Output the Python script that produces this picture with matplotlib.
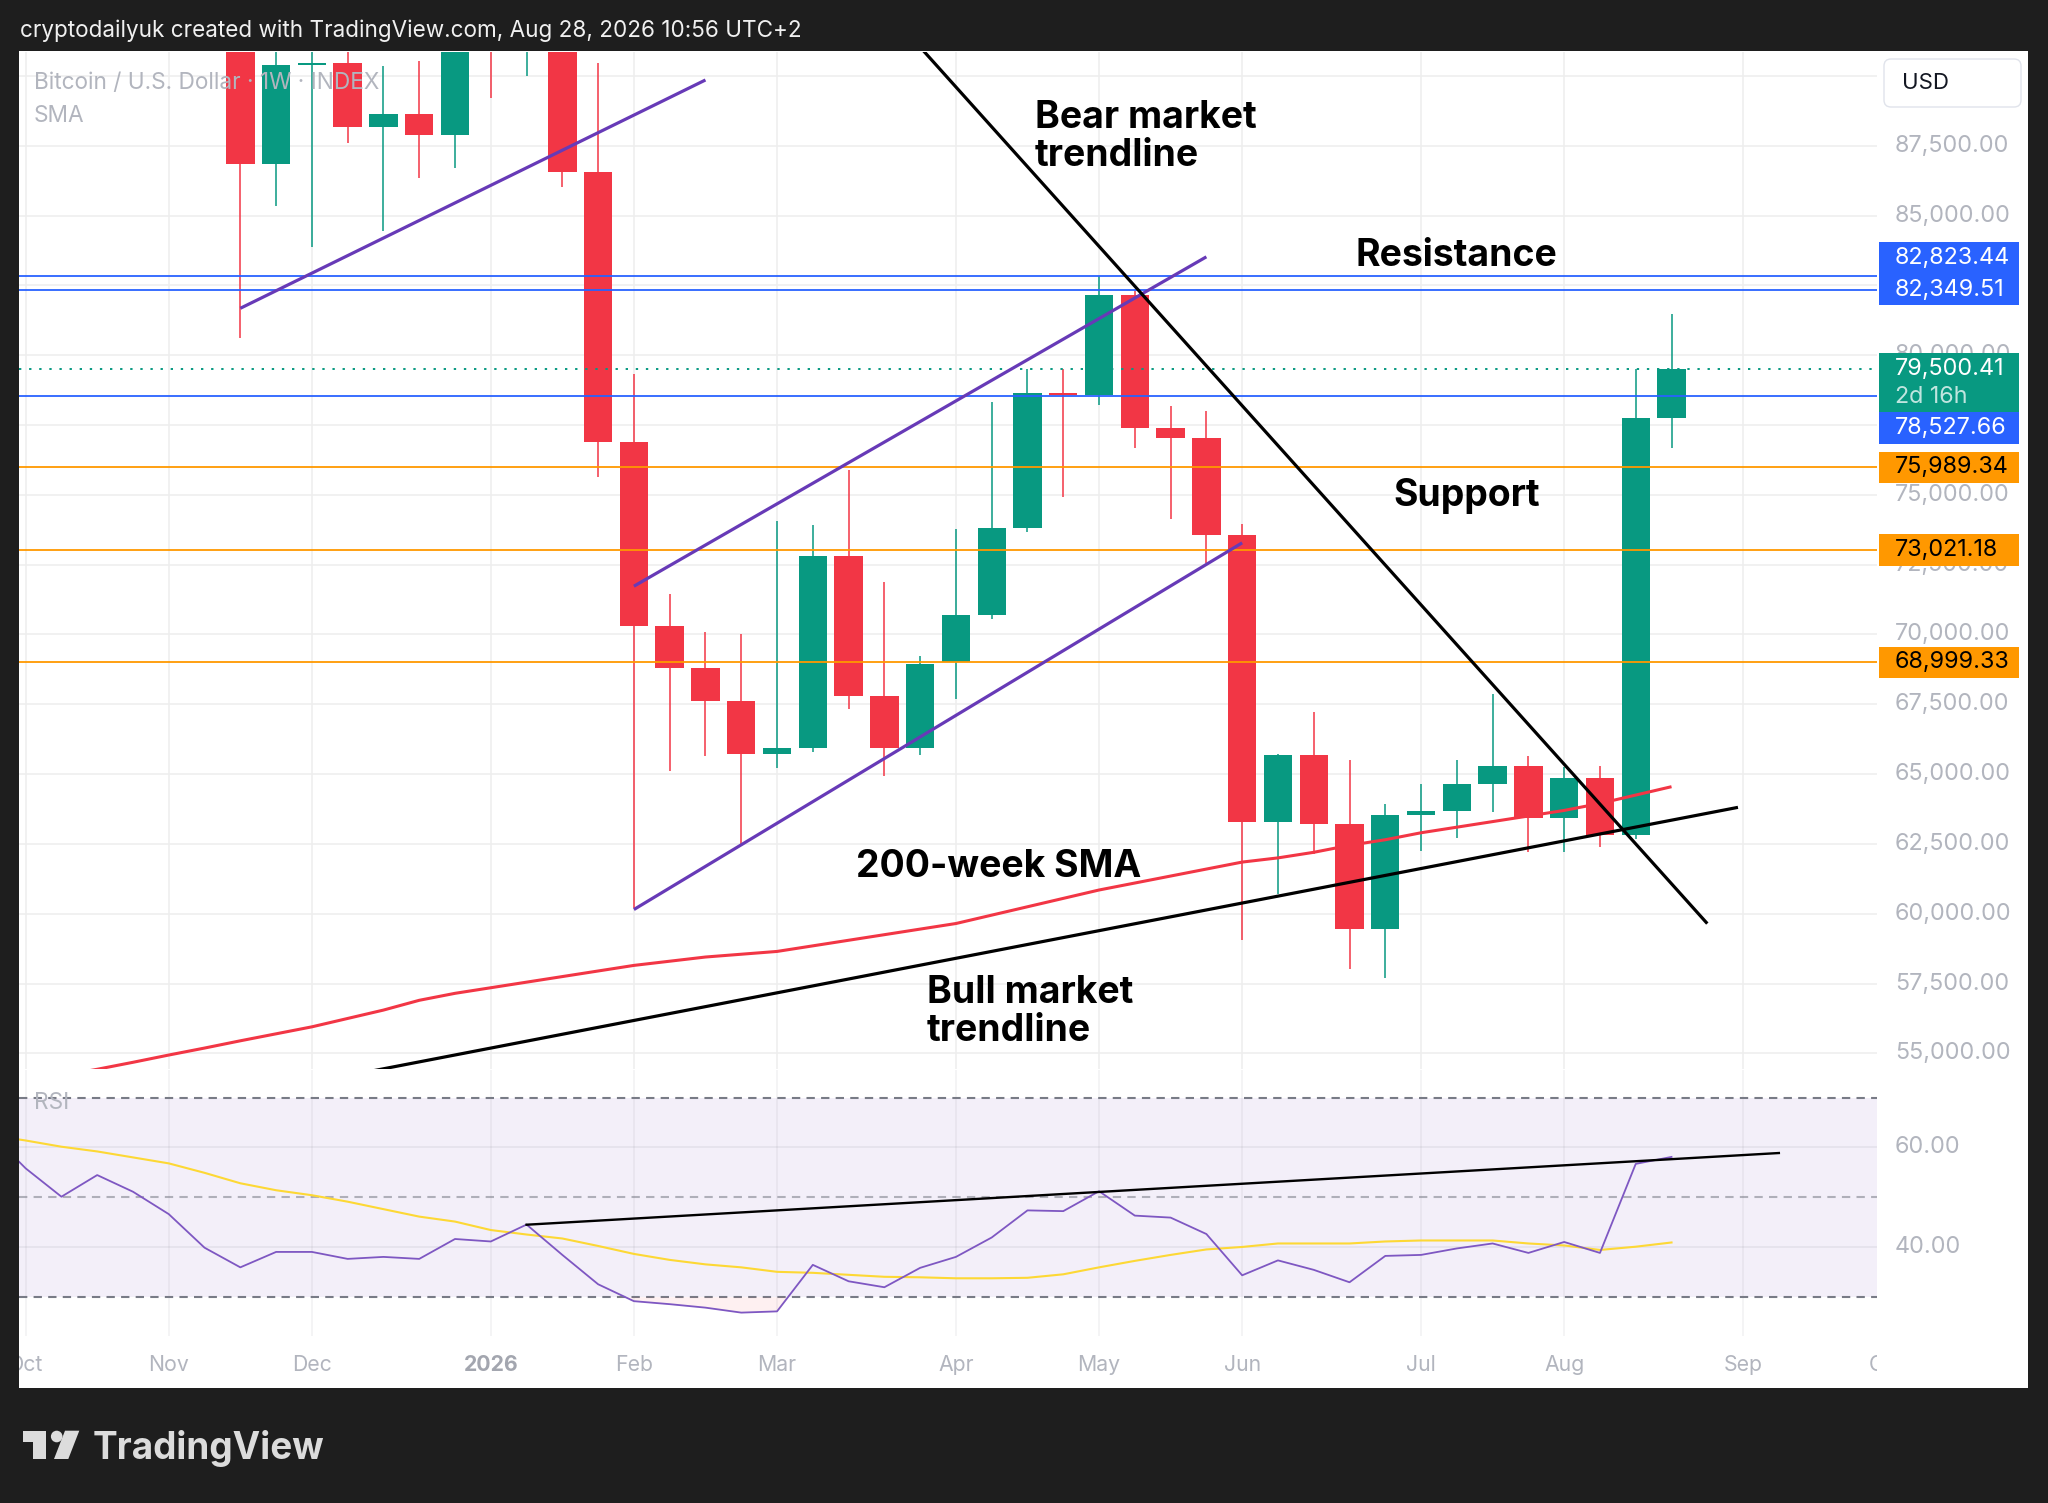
import numpy as np
import pandas as pd
import matplotlib
matplotlib.use("Agg")
import matplotlib.pyplot as plt
import matplotlib.dates as mdates
import matplotlib.transforms as mtransforms
from matplotlib.patches import Rectangle, FancyBboxPatch, Polygon, Circle

# ---------------- data ----------------
candle_start = "2025-11-17"          # weekly candles (Mondays)
opens  = [92800, 86843, 90400, 90460, 88157, 88638, 87872, 92000, 91000, 92500,
          86559, 76905, 70300, 68790, 67610, 65722, 65928, 72800, 67800, 65928,
          69000, 70701, 73826, 78651, 78565, 82171, 77380, 77020, 73560, 63284,
          65670, 63210, 59454, 63542, 63679, 64636, 65289, 63434, 64845, 62820,
          77741]
highs  = [93500, 91800, 92500, 91500, 90346, 90543, 92800, 93500, 93500, 93000,
          90455, 79335, 71433, 70100, 70031, 74049, 73912, 75900, 71886, 69242,
          73792, 78342, 79509, 79509, 82823, 82291, 78170, 78000, 73963, 65722,
          67212, 65494, 63917, 64636, 65494, 67868, 65653, 65258, 65289, 79509,
          81484]
lows   = [80627, 85333, 83888, 87609, 84435, 86340, 86712, 89200, 90017, 86011,
          75657, 60203, 65128, 65650, 62511, 65224, 65807, 67318, 64949, 65687,
          67696, 70564, 73671, 74925, 78204, 76676, 74152, 72555, 59077, 60708,
          62134, 58012, 57703, 62254, 62717, 63627, 62202, 62202, 62404, 62683,
          76676]
closes = [86843, 90411, 90460, 88157, 88638, 87872, 92000, 91000, 92500, 86559,
          76905, 70300, 68790, 67620, 65722, 65928, 72800, 67800, 65928, 68950,
          70701, 73826, 78651, 78565, 82171, 77380, 77020, 73560, 63284, 65670,
          63210, 59454, 63542, 63679, 64636, 65289, 63434, 64845, 62820, 77741,
          79500.41]

indicator_start = "2025-09-29"       # weekly indicator values
sma200 = [53700, 53950, 54200, 54430, 54680, 54940, 55190,
          55450, 55700, 55950, 56250, 56550, 56900, 57150, 57350, 57550, 57750,
          57950, 58150, 58300, 58450, 58550, 58650, 58850, 59050, 59250, 59450,
          59650, 59950, 60250, 60550, 60850, 61100, 61350, 61600, 61850, 62000,
          62200, 62450, 62650, 62900, 63100, 63300, 63500, 63700, 63950, 64250,
          64550]
rsi_vals = [63.0, 55.8, 50.1, 54.45, 51.1, 46.6, 39.85,
            35.9, 39.0, 39.0, 37.6, 38.0, 37.6, 41.6, 41.1, 44.5, 38.4,
            32.5, 29.1, 28.5, 27.8, 26.8, 27.05, 36.4, 33.1, 31.9, 35.8,
            38.0, 41.9, 47.35, 47.2, 51.2, 46.3, 45.9, 42.6, 34.3, 37.3,
            35.4, 32.9, 38.2, 38.4, 39.7, 40.7, 38.8, 41.0, 38.8, 56.7,
            58.1]
rsi_ma = [62.5, 61.4, 60.15, 59.2, 58.0, 56.8, 54.9,
          52.8, 51.4, 50.4, 49.1, 47.6, 46.1, 45.1, 43.4, 42.5, 41.7,
          40.2, 38.6, 37.4, 36.5, 35.9, 35.0, 34.8, 34.4, 34.0, 33.9,
          33.7, 33.7, 33.8, 34.5, 35.9, 37.2, 38.4, 39.5, 40.0, 40.7,
          40.7, 40.7, 41.1, 41.3, 41.3, 41.3, 40.7, 40.3, 39.4, 40.05,
          40.9]

blue_levels = [82823.44, 82349.51, 78527.66]
orange_levels = [75989.34, 73021.18, 68999.33]
last_price = 79500.41
countdown_text = "2d 16h"

purple_lines = [
    (["2025-11-17", "2026-02-16"], [81682, 89858]),
    (["2026-02-02", "2026-05-25"], [71729, 83525]),
    (["2026-02-02", "2026-06-01"], [60151, 73283]),
]
bear_trend = (["2026-03-09", "2026-08-31"], [95314, 59647])
bull_trend = (["2025-12-08", "2026-09-06"], [54200, 63810])
rsi_trend = (["2026-01-12", "2026-09-14"], [44.47, 58.88])

price_ticks = [55000, 57500, 60000, 62500, 65000, 67500, 70000, 72500,
               75000, 77500, 80000, 82500, 85000, 87500, 90000]
rsi_ticks = [40, 60]
month_dates = ["2025-10-06", "2025-11-03", "2025-12-01", "2026-01-05", "2026-02-02",
               "2026-03-02", "2026-04-06", "2026-05-04", "2026-06-01", "2026-07-06",
               "2026-08-03", "2026-09-07", "2026-10-05"]
month_labels = ["Oct", "Nov", "Dec", "2026", "Feb", "Mar", "Apr", "May", "Jun",
                "Jul", "Aug", "Sep", "Oct"]

# ---------------- style ----------------
W, H = 2048, 1503
DARK = "#1e1e1e"
GREEN = "#089981"
RED = "#f23645"
BLUE = "#2962ff"
ORANGE = "#ff9800"
PURPLE = "#673ab7"
GREY = "#b2b5be"
GRID = "#eeeeee"
AXFS = 16.8
plt.rcParams["font.family"] = ["Inter", "DejaVu Sans"]

fig = plt.figure(figsize=(W / 100, H / 100), dpi=100, facecolor=DARK)
TPX = mtransforms.Affine2D().scale(1, -1).translate(0, H).scale(1 / 100.0) + fig.dpi_scale_trans

# white chart panel
fig.add_artist(Rectangle((19, 51), 2028 - 19, 1388 - 51, transform=TPX,
                         facecolor="white", edgecolor="none", zorder=-5))

PL, PR = 19, 1877
ax = fig.add_axes([PL / W, 1 - 1069 / H, (PR - PL) / W, (1069 - 52) / H])
axr = fig.add_axes([PL / W, 1 - 1336 / H, (PR - PL) / W, (1336 - 1070) / H])
lab_ax = fig.add_axes([PL / W, 1 - 1388 / H, (PR - PL) / W, (1388 - 1337) / H])

x0 = mdates.date2num(pd.Timestamp(candle_start))
xlim = (x0 - 43.3, x0 + 320.2)
for a in (ax, axr, lab_ax):
    a.set_xlim(*xlim)
    a.set_xticks([])
    a.set_yticks([])
    a.set_facecolor("none")
    for s in a.spines.values():
        s.set_visible(False)
ax.set_ylim(54440, 90860)
axr.set_ylim(22.1, 75.57)
lab_ax.set_ylim(0, 1)

# grids
mx = mdates.date2num(pd.to_datetime(month_dates))
for xv in mx:
    ax.axvline(xv, color=GRID, lw=1.1, zorder=0)
    axr.axvline(xv, color="#787b86", alpha=0.1, lw=1.1, zorder=0.6)
for p in price_ticks:
    ax.axhline(p, color=GRID, lw=1.1, zorder=0)

# candles
x = mdates.date2num(pd.date_range(candle_start, periods=len(opens), freq="7D"))
o, hi, lo, c = (np.array(v, dtype=float) for v in (opens, highs, lows, closes))
cols = np.where(c >= o, GREEN, RED)
ax.vlines(x, lo, hi, colors=cols, lw=1.1, zorder=3)
ax.bar(x, np.maximum(np.abs(c - o), 60), bottom=np.minimum(o, c), width=5.55,
       color=cols, linewidth=0, zorder=3.1)

# 200-week SMA
xi = mdates.date2num(pd.date_range(indicator_start, periods=len(sma200), freq="7D"))
ax.plot(xi, sma200, color=RED, lw=2.2, zorder=4, solid_capstyle="butt")

# horizontal levels
for p in blue_levels:
    ax.axhline(p, color=BLUE, lw=1.3, zorder=5)
for p in orange_levels:
    ax.axhline(p, color=ORANGE, lw=1.3, zorder=5)
ax.axhline(last_price, color=GREEN, lw=1.4, ls=(0, (1.2, 4)), zorder=5)

# drawings
for d, v in purple_lines:
    ax.plot(mdates.date2num(pd.to_datetime(d)), v, color=PURPLE, lw=2.3, zorder=6,
            solid_capstyle="butt")
for d, v in (bear_trend, bull_trend):
    ax.plot(mdates.date2num(pd.to_datetime(d)), v, color="black", lw=2.3, zorder=6,
            solid_capstyle="butt")

# RSI pane
rv = np.array(rsi_vals)
axr.axhspan(30, 70, color="#7e57c2", alpha=0.09, lw=0, zorder=0)
for v in rsi_ticks:
    axr.axhline(v, color="#787b86", alpha=0.12, lw=1.2, zorder=0.5)
axr.axhline(70, color="#787b86", lw=1.5, ls=(0, (4, 3)), zorder=1)
axr.axhline(30, color="#787b86", lw=1.5, ls=(0, (4, 3)), zorder=1)
axr.axhline(50, color="#787b86", alpha=0.55, lw=1.5, ls=(0, (4, 3)), zorder=1)
axr.fill_between(xi, rv, 30, where=rv < 30, interpolate=True, color=RED,
                 alpha=0.07, lw=0, zorder=1)
axr.plot(xi, rsi_ma, color="#fdd835", lw=1.5, zorder=2)
axr.plot(xi, rv, color="#7e57c2", lw=1.3, zorder=3)
axr.plot(mdates.date2num(pd.to_datetime(rsi_trend[0])), rsi_trend[1], color="black",
         lw=1.7, zorder=4)

# month labels (clipped to pane width)
for xv, lab in zip(mx, month_labels):
    bold = lab.isdigit()
    lab_ax.text(xv, 0.45, lab, ha="center", va="center", fontsize=15.3,
                color="#a3a6af" if bold else GREY,
                fontweight="bold" if bold else "normal", clip_on=True)


def ypx(p):
    return H - ax.transData.transform((x0, p))[1]


BOX_H = 31.5
BX0, BX1 = 1879, 2019

# coloured price labels: positions (collision-adjusted like the price scale does)
cy_b2 = ypx(blue_levels[1])
cy_b1 = min(ypx(blue_levels[0]), cy_b2 - BOX_H)
cy_g = ypx(last_price)
cy_b3 = max(ypx(blue_levels[2]), cy_g + 59)
boxes = [(cy_b1, f"{blue_levels[0]:,.2f}", BLUE, "white", BOX_H, cy_b1 - BOX_H / 2),
         (cy_b2, f"{blue_levels[1]:,.2f}", BLUE, "white", BOX_H, cy_b2 - BOX_H / 2),
         (cy_g, f"{last_price:,.2f}", GREEN, "white", 59, cy_g - BOX_H / 2),
         (cy_b3, f"{blue_levels[2]:,.2f}", BLUE, "white", BOX_H, cy_b3 - BOX_H / 2)]
for p in orange_levels:
    cy = ypx(p)
    boxes.append((cy, f"{p:,.2f}", ORANGE, "black", BOX_H, cy - BOX_H / 2))
covers = [(t, t + h) for (_, _, _, _, h, t) in boxes] + [(59, 107)]

# price scale labels (skip those fully hidden behind label boxes)
for p in price_ticks:
    yy = ypx(p)
    if any(t - 2 <= yy - 8 and yy + 8 <= b + 2 for t, b in covers):
        continue
    fig.text(1895, yy, f"{p:,.2f}", transform=TPX, va="center", ha="left",
             fontsize=AXFS, color=GREY, zorder=2)
trans_r = mtransforms.blended_transform_factory(fig.transFigure, axr.transData)
for v in rsi_ticks:
    fig.text(1895 / W, v, f"{v:.2f}", transform=trans_r, va="center", ha="left",
             fontsize=AXFS, color=GREY, zorder=2)

for cy, txt, fc, tc, h, t in boxes:
    fig.add_artist(Rectangle((BX0, t), BX1 - BX0, h, transform=TPX, facecolor=fc,
                             edgecolor="none", zorder=10))
    fig.text(1895, cy, txt, transform=TPX, va="center", ha="left", fontsize=AXFS,
             color=tc, zorder=11)
fig.text(1895, cy_g + 27.3, countdown_text, transform=TPX, va="center", ha="left",
         fontsize=AXFS, color="white", alpha=0.75, zorder=11)

# currency box
fig.add_artist(FancyBboxPatch((1884, 59), 137, 48, boxstyle="round,pad=0,rounding_size=7",
                              transform=TPX, facecolor="white", edgecolor="#e0e3eb",
                              lw=1.0, zorder=10))
fig.text(1902, 83, "USD", transform=TPX, va="center", ha="left", fontsize=16,
         color="#131722", zorder=11)

# legend texts
fig.text(34, 89, "Bitcoin / U.S. Dollar · 1W · INDEX", transform=TPX, va="baseline",
         ha="left", fontsize=16.3, color=GREY, zorder=8)
fig.text(34, 121.5, "SMA", transform=TPX, va="baseline", ha="left", fontsize=16.3,
         color=GREY, zorder=8)
fig.text(34, 1109, "RSI", transform=TPX, va="baseline", ha="left", fontsize=16.3,
         color=GREY, zorder=8)

# annotations
ANN = dict(transform=TPX, va="baseline", ha="left", fontsize=26.9, fontweight="bold",
           color="black", zorder=9)
fig.text(1035, 128, "Bear market", **ANN)
fig.text(1035, 166, "trendline", **ANN)
fig.text(1356, 266.5, "Resistance", **ANN)
fig.text(1393, 506, "Support", **ANN)
fig.text(856, 877, "200-week SMA", **ANN)
fig.text(927, 1003, "Bull market", **ANN)
fig.text(927, 1041, "trendline", **ANN)

# header
fig.text(19.6, 37.3, "cryptodailyuk created with TradingView.com, Aug 28, 2026 10:56 UTC+2",
         transform=TPX, va="baseline", ha="left", fontsize=16.2, color="#f0f0f0")

# footer logo
LOGO = "#dcdcdc"
fig.add_artist(Polygon([(22.7, 1430.7), (45.7, 1430.7), (45.7, 1459), (33.3, 1459),
                        (33.3, 1442.3), (22.7, 1442.3)], closed=True, transform=TPX,
                       facecolor=LOGO, edgecolor="none"))
fig.add_artist(Circle((56.7, 1436.5), 5.8, transform=TPX, facecolor=LOGO,
                      edgecolor="none"))
fig.add_artist(Polygon([(65, 1430.7), (79.3, 1430.7), (68.3, 1459), (54, 1459)],
                       closed=True, transform=TPX, facecolor=LOGO, edgecolor="none"))
fig.text(93, 1459, "TradingView", transform=TPX, va="baseline", ha="left",
         fontsize=26.6, fontweight="bold", color=LOGO)

fig.savefig("out.png", dpi=100, facecolor=DARK)
